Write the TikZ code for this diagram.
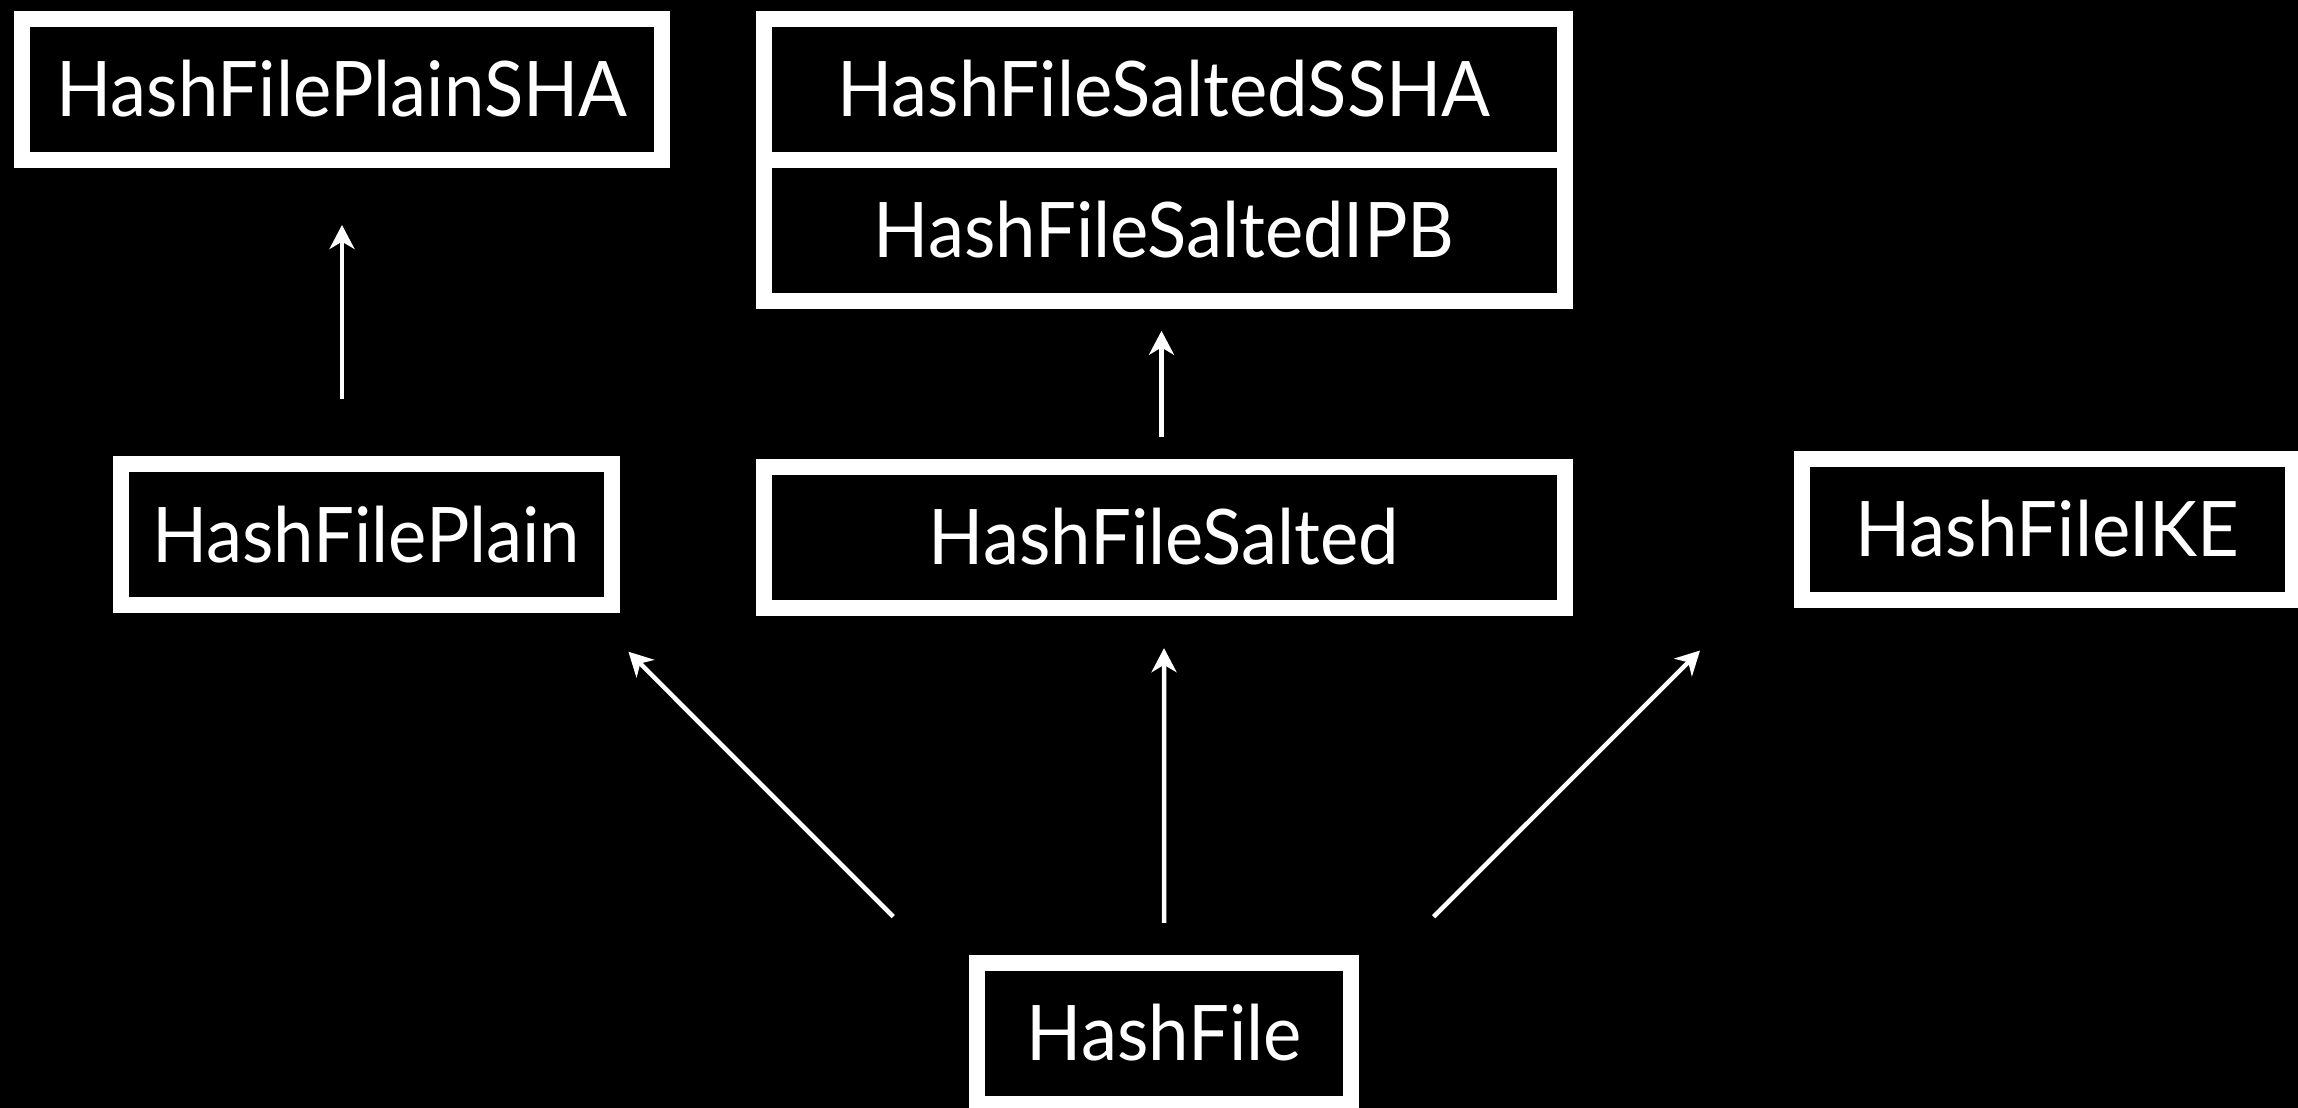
\documentclass[tikz,border=0pt]{standalone}
\usepackage{fontspec}
\setmainfont[FakeStretch=0.945]{Lato}
\usetikzlibrary{arrows.meta,calc}
\begin{document}
\begin{tikzpicture}[x=0.3pt,y=-0.3pt,
  cls/.style={draw=white, fill=black, line width=4.8pt, inner sep=0pt, text=white,
    font=\fontsize{23}{23}\selectfont, text height=16.5pt, text depth=0pt,
    minimum height=42.3pt},
  arr/.style={draw=white, line width=1.35pt,
    -{Stealth[length=7.2pt,width=7.5pt,inset=2.2pt]}}]
\fill[black] (0,0) rectangle (2298,1108);
\useasboundingbox (0,0) rectangle (2298,1108);
\node[cls, minimum width=192pt]   (sha)    at (342,89.15)    {HashFilePlainSHA};
\node[cls, minimum width=240.3pt] (ssha)   at (1164,89.2)    {HashFileSaltedSSHA};
\node[cls, minimum width=240.3pt] (ipb)    at (1164,230.3)   {HashFileSaltedIPB};
\node[cls, minimum width=147.3pt] (plain)  at (366.1,534.5)  {HashFilePlain};
\node[cls, minimum width=240.3pt] (salted) at (1164,537)     {HashFileSalted};
\node[cls, minimum width=147.4pt] (ike)    at (2047.4,529.3) {HashFileIKE};
\node[cls, minimum width=112.1pt] (hf)     at (1164.2,1033)  {HashFile};
\draw[arr, shorten <=17.2pt, shorten >=17.2pt] (plain.north -| sha.south) -- (sha.south);
\draw[arr, shorten <=6.5pt, shorten >=6.6pt] ([xshift=-0.75pt]salted.north) -- ([xshift=-0.75pt]ipb.south);
\draw[arr, shorten <=9.5pt, shorten >=9.8pt] (hf.north) -- (salted.south);
\draw[arr] ($(hf.north west)+(-76.1,-37.8)$) -- ($(plain.south east)+(8.8,38.7)$);
\draw[arr] ($(hf.north east)+(74.6,-37.8)$) -- ($(ike.south west)+(-93.7,42.7)$);
\end{tikzpicture}
\end{document}
